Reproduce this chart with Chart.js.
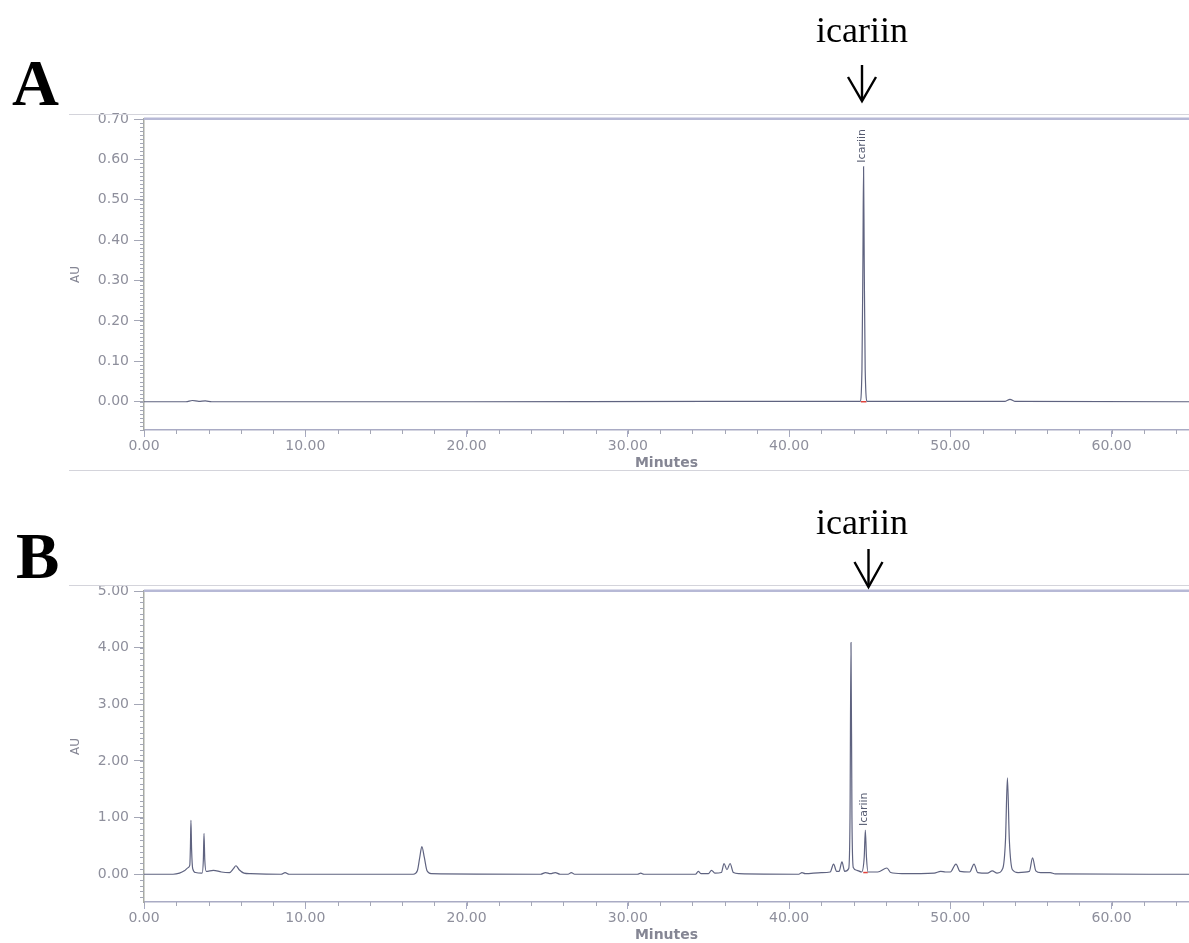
<!DOCTYPE html>
<html>
<head>
<meta charset="utf-8">
<script src="https://cdn.jsdelivr.net/npm/chart.js@4.4.1/dist/chart.umd.min.js"></script>
<style>
  html, body { margin: 0; padding: 0; background: #fff; }
  body { width: 1189px; height: 943px; overflow: hidden; position: relative; }
  .panel { position: absolute; left: 0; width: 1189px; height: 370px; }
  #panel-a { top: 110px; }
  #panel-b { top: 582px; }
  svg.overlay { position: absolute; left: 0; top: 0; pointer-events: none; }
</style>
</head>
<body>
<div class="panel" id="panel-a"><canvas id="chart-a"></canvas></div>
<div class="panel" id="panel-b"><canvas id="chart-b"></canvas></div>

<svg class="overlay" width="1189" height="943">
  <!-- frame lines round each panel -->
  <line x1="69" y1="114.5" x2="1189" y2="114.5" stroke="#d4d4db" stroke-width="1.2"/>
  <line x1="69" y1="470.5" x2="1189" y2="470.5" stroke="#d4d4db" stroke-width="1.2"/>
  <line x1="69" y1="585.5" x2="1189" y2="585.5" stroke="#d4d4db" stroke-width="1.2"/>

  <text x="12" y="105" font-family="Liberation Serif" font-weight="bold" font-size="65">A</text>
  <text x="16" y="578" font-family="Liberation Serif" font-weight="bold" font-size="65">B</text>

  <text x="816" y="42" font-family="Liberation Serif" font-size="36">icariin</text>
  <line x1="862" y1="65" x2="862" y2="100" stroke="#000" stroke-width="2.4"/>
  <polyline points="848,77 862,101 876,77" fill="none" stroke="#000" stroke-width="2.4"/>

  <text x="816" y="534" font-family="Liberation Serif" font-size="36">icariin</text>
  <line x1="868.5" y1="549" x2="868.5" y2="586" stroke="#000" stroke-width="2.4"/>
  <polyline points="854.5,562 868.5,587 882.5,562" fill="none" stroke="#000" stroke-width="2.4"/>
</svg>

<script>
// Chromatograms: retention time (min) / absorbance (AU).
const timeA = [0, 2.6, 3.0, 3.4, 3.8, 4.2, 20, 35, 44.4, 44.52, 44.58, 44.62, 44.66, 44.72, 44.85, 53.4, 53.7, 54.0, 64.8];
const auA   = [0, 0, 0.003, 0.001, 0.002, 0, 0, 0.001, 0.001, 0.08, 0.35, 0.582, 0.35, 0.08, 0.001, 0.001, 0.006, 0.001, 0];

const timeB = [
  0, 1.8, 2.2, 2.5, 2.75, 2.84, 2.88, 2.91, 2.95, 3.02, 3.2, 3.6, 3.68, 3.72, 3.77, 3.86,
  4.3, 4.8, 5.3, 5.55, 5.7, 5.9, 6.2, 6.6, 8.5, 8.75, 9.0,
  16.7, 16.95, 17.1, 17.23, 17.38, 17.55, 17.8,
  24.6, 24.9, 25.2, 25.5, 25.8, 26.3, 26.5, 26.7, 30.6, 30.8, 31.0,
  34.2, 34.37, 34.55, 35.0, 35.19, 35.4, 35.8, 35.97, 36.15, 36.34, 36.55, 36.9,
  40.6, 40.8, 41.0, 42.0, 42.55, 42.76, 42.95, 43.1, 43.28, 43.45,
  43.7, 43.78, 43.84, 43.9, 43.98, 44.2, 44.5, 44.66, 44.73, 44.8, 44.9,
  45.5, 46.07, 46.3, 47.0, 49.0, 49.4, 49.7, 50.0, 50.35, 50.6, 51.2, 51.47, 51.7,
  52.3, 52.6, 52.9, 53.25, 53.42, 53.54, 53.66, 53.85, 54.2, 54.9, 55.1, 55.3, 55.6,
  56.2, 56.5, 64.8
];
const auB = [
  0, 0, 0.02, 0.06, 0.12, 0.16, 0.5, 0.95, 0.45, 0.1, 0.03, 0.02, 0.25, 0.72, 0.25, 0.05,
  0.07, 0.04, 0.03, 0.1, 0.15, 0.08, 0.02, 0.01, 0, 0.03, 0,
  0, 0.06, 0.3, 0.49, 0.3, 0.06, 0.01,
  0, 0.03, 0.01, 0.03, 0, 0, 0.03, 0, 0, 0.02, 0,
  0, 0.05, 0.01, 0.01, 0.07, 0.02, 0.03, 0.19, 0.08, 0.19, 0.03, 0.01,
  0, 0.03, 0.01, 0.03, 0.04, 0.18, 0.05, 0.05, 0.22, 0.05,
  0.1, 1.0, 4.09, 1.0, 0.12, 0.07, 0.04, 0.3, 0.78, 0.3, 0.04,
  0.04, 0.11, 0.03, 0.01, 0.02, 0.05, 0.04, 0.04, 0.18, 0.05, 0.04, 0.18, 0.03,
  0.02, 0.06, 0.02, 0.1, 0.6, 1.70, 0.6, 0.08, 0.03, 0.05, 0.29, 0.06, 0.03,
  0.03, 0.005, 0
];

// integration baseline under the icariin peak (red in the original)
const baseTimeA = [44.45, 44.8];
const baseAuA = [0, 0];
const baseTimeB = [44.6, 44.88];
const baseAuB = [0.03, 0.03];

// named peak and where it sits
const peakA = { t: 44.62, au: 0.582, name: "Icariin" };
const peakB = { t: 44.73, au: 0.78, name: "Icariin" };

const xTicks = [0, 10, 20, 30, 40, 50, 60];
const yTicksA = [0, 0.1, 0.2, 0.3, 0.4, 0.5, 0.6, 0.7];
const yTicksB = [0, 1, 2, 3, 4, 5];

const TRACE = "#5f6380";
const LABEL = "#8e8f9c";
const AXIS = "#a9abc4";

function pairs(ts, vs) {
  return ts.map((t, i) => ({ x: t, y: vs[i] }));
}

// short minor ticks, longer ones come from Chart.js itself
const minorTicks = {
  id: "minorTicks",
  afterDraw(chart, args, opts) {
    const { ctx, scales: { x, y } } = chart;
    ctx.save();
    ctx.strokeStyle = opts.color;
    ctx.lineWidth = 1;
    ctx.beginPath();
    for (let i = 0; i * opts.xStep <= x.max; i++) {
      const px = Math.round(x.getPixelForValue(i * opts.xStep)) + 0.5;
      ctx.moveTo(px, x.top);
      ctx.lineTo(px, x.top + 4);
    }
    const first = Math.ceil(y.min / opts.yStep - 1e-6);
    for (let i = first; i * opts.yStep <= y.max + 1e-9; i++) {
      const py = Math.round(y.getPixelForValue(i * opts.yStep)) + 0.5;
      ctx.moveTo(y.right - 4, py);
      ctx.lineTo(y.right, py);
    }
    ctx.stroke();
    // double top border of the plot
    ctx.fillStyle = "#b7b9d6";
    ctx.fillRect(x.left, chart.chartArea.top - 1.5, x.right - x.left, 2.5);
    ctx.restore();
  },
};

const peakLabel = {
  id: "peakLabel",
  afterDatasetsDraw(chart, args, opts) {
    const { ctx, scales: { x, y } } = chart;
    const px = x.getPixelForValue(opts.t) - 1;
    const py = y.getPixelForValue(opts.au) - 4;
    ctx.save();
    ctx.translate(px, py);
    ctx.rotate(-Math.PI / 2);
    ctx.font = "11px 'DejaVu Sans'";
    ctx.fillStyle = "#555a70";
    ctx.textAlign = "left";
    ctx.textBaseline = "middle";
    ctx.fillText(opts.name, 0, 0);
    ctx.restore();
  },
};

function makeChart(id, trace, base, yMin, yMax, yTicks, yStep, peak) {
  return new Chart(document.getElementById(id), {
    type: "line",
    data: {
      datasets: [
        {
          data: trace,
          borderColor: TRACE,
          borderWidth: 1.2,
          pointRadius: 0,
          cubicInterpolationMode: "monotone",
        },
        {
          data: base,
          borderColor: "#e0413a",
          borderWidth: 1.5,
          pointRadius: 0,
        },
      ],
    },
    plugins: [minorTicks, peakLabel],
    options: {
      responsive: true,
      maintainAspectRatio: false,
      animation: false,
      layout: { padding: { top: 9, left: 69, right: 0, bottom: 0 } },
      plugins: {
        legend: { display: false },
        tooltip: { enabled: false },
        minorTicks: { color: "#a4a7b6", xStep: 2, yStep },
        peakLabel: peak,
      },
      scales: {
        x: {
          type: "linear",
          min: 0,
          max: 64.8,
          afterBuildTicks: (s) => { s.ticks = xTicks.map((v) => ({ value: v })); },
          afterFit: (s) => {
            s.height = 50;
            s.paddingLeft = 0;
            s.paddingRight = 0;
          },
          border: { color: AXIS, width: 1.5 },
          grid: { drawOnChartArea: false, tickLength: 7, tickColor: AXIS },
          ticks: {
            color: LABEL,
            padding: 1,
            maxRotation: 0,
            autoSkip: false,
            font: { family: "DejaVu Sans", size: 14 },
            callback: (v) => v.toFixed(2),
          },
          title: {
            display: true,
            text: "Minutes",
            color: "#858694",
            padding: { top: 0, bottom: 8 },
            font: { family: "DejaVu Sans", size: 14, weight: "bold" },
          },
        },
        y: {
          min: yMin,
          max: yMax,
          afterBuildTicks: (s) => { s.ticks = yTicks.map((v) => ({ value: v })); },
          afterFit: (s) => {
            s.width = 75;
            s.paddingTop = 0;
            s.paddingBottom = 0;
          },
          border: { color: "#a7aaa2", width: 1.5 },
          grid: { drawOnChartArea: false, tickLength: 10, tickColor: "#a4a7b6" },
          ticks: {
            color: LABEL,
            padding: 5,
            autoSkip: false,
            font: { family: "DejaVu Sans", size: 14 },
            callback: (v) => v.toFixed(2),
          },
          title: {
            display: true,
            text: "AU",
            color: "#858694",
            padding: { top: 0, bottom: 0 },
            font: { family: "DejaVu Sans", size: 12 },
          },
        },
      },
    },
  });
}

makeChart("chart-a", pairs(timeA, auA), pairs(baseTimeA, baseAuA), -0.07, 0.7, yTicksA, 0.01, peakA);
makeChart("chart-b", pairs(timeB, auB), pairs(baseTimeB, baseAuB), -0.49, 5, yTicksB, 0.1, peakB);
</script>
</body>
</html>
